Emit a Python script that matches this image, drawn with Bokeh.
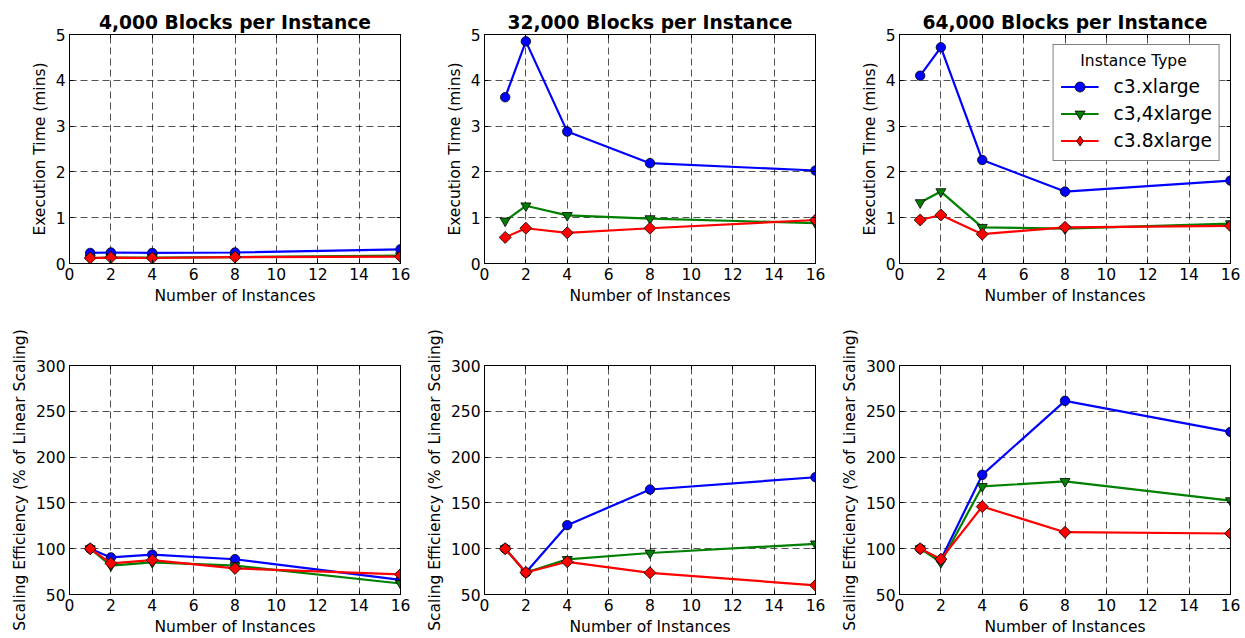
from bokeh.plotting import figure
from bokeh.layouts import gridplot
from bokeh.models import Legend, LegendItem, LinearAxis, FixedTicker, Range1d
from bokeh.embed import file_html
from bokeh.resources import INLINE
import numpy as np

# ---- data -------------------------------------------------------------
instances = [1, 2, 4, 8, 16]
instance_types = ["c3.xlarge", "c3,4xlarge", "c3.8xlarge"]
block_titles = ["4,000 Blocks per Instance", "32,000 Blocks per Instance",
                "64,000 Blocks per Instance"]

# execution time (minutes)
time_4k_c3x = [0.23, 0.24, 0.23, 0.24, 0.31]
time_4k_c34x = [0.12, 0.13, 0.13, 0.14, 0.17]
time_4k_c38x = [0.12, 0.13, 0.12, 0.14, 0.15]

time_32k_c3x = [3.63, 4.85, 2.88, 2.19, 2.03]
time_32k_c34x = [0.93, 1.26, 1.05, 0.98, 0.88]
time_32k_c38x = [0.57, 0.77, 0.67, 0.77, 0.95]

time_64k_c3x = [4.10, 4.72, 2.26, 1.57, 1.81]
time_64k_c34x = [1.33, 1.57, 0.79, 0.76, 0.87]
time_64k_c38x = [0.95, 1.06, 0.64, 0.79, 0.82]

# scaling efficiency (% of linear scaling)
eff_4k_c3x = [100, 90.5, 93.5, 88.5, 66]
eff_4k_c34x = [100, 81.5, 85, 81.5, 62]
eff_4k_c38x = [100, 84, 87.5, 78.5, 72]

eff_32k_c3x = [100, 74, 125.7, 164.6, 178]
eff_32k_c34x = [100, 74, 88.3, 95.3, 105.3]
eff_32k_c38x = [100, 74, 85.7, 73.7, 60]

eff_64k_c3x = [100, 88, 180.6, 261.4, 227.5]
eff_64k_c34x = [100, 85, 168, 173.5, 152.5]
eff_64k_c38x = [100, 88.6, 146, 118, 116.6]

x_ticks = [0, 2, 4, 6, 8, 10, 12, 14, 16]
time_ticks = [0, 1, 2, 3, 4, 5]
eff_ticks = [50, 100, 150, 200, 250, 300]

# ---- style ------------------------------------------------------------
FONT = "DejaVu Sans"
COLORS = ["#0000ff", "#008000", "#ff0000"]
# (plot marker, size, angle, legend marker)
MARKERS = [("circle", 9.5, 0.0, "circle"),
           ("inverted_triangle", 10, 0.0, "inverted_triangle"),
           ("square", 8.5, np.pi / 4, "diamond")]


def style_axis(ax, labels=True):
    ax.axis_line_color = "black"
    ax.major_tick_line_color = "black"
    ax.major_tick_in = 4
    ax.major_tick_out = 0
    ax.minor_tick_line_color = None
    ax.major_label_text_font = FONT
    ax.axis_label_text_font = FONT
    ax.axis_label_text_font_style = "normal"
    ax.axis_label_text_font_size = "15.5px"
    ax.axis_label_text_color = "black"
    if labels:
        ax.major_label_text_color = "black"
        ax.major_label_text_font_size = "15.5px"
        ax.major_label_standoff = 4
        ax.axis_label_standoff = 4
    else:
        # tick marks only, no labels
        ax.major_label_text_color = None
        ax.major_label_text_font_size = "1px"
        ax.major_label_standoff = 0


def panel(title, ylabel, y_rng, y_ticks, series, top_row, with_legend=False):
    p = figure(width=415, height=319, output_backend="svg", toolbar_location=None,
               x_range=Range1d(0, 16), y_range=Range1d(*y_rng),
               min_border_left=69, min_border_right=15,
               min_border_top=34 if top_row else 46,
               min_border_bottom=56 if top_row else 44,
               background_fill_color="white", border_fill_color="white")
    p.outline_line_color = "black"
    p.outline_line_width = 1

    if title:
        p.title.text = title
        p.title.text_font = FONT
        p.title.text_font_size = "18.7px"
        p.title.text_font_style = "bold"
        p.title.text_color = "black"
        p.title.align = "center"
        p.title.standoff = 4

    p.xaxis.ticker = FixedTicker(ticks=x_ticks)
    p.yaxis.ticker = FixedTicker(ticks=y_ticks)
    p.xaxis.axis_label = "Number of Instances"
    p.yaxis.axis_label = ylabel
    style_axis(p.xaxis[0])
    style_axis(p.yaxis[0])

    # inward ticks on the top and right edges too
    top_ax = LinearAxis(ticker=FixedTicker(ticks=x_ticks))
    right_ax = LinearAxis(ticker=FixedTicker(ticks=y_ticks))
    style_axis(top_ax, labels=False)
    style_axis(right_ax, labels=False)
    p.add_layout(top_ax, "above")
    p.add_layout(right_ax, "right")

    for g in (p.xgrid[0], p.ygrid[0]):
        g.grid_line_color = "black"
        g.grid_line_alpha = 0.85
        g.grid_line_width = 0.8
        g.grid_line_dash = "7 4"

    items = []
    for name, ys, color, (marker, size, ang, lg_marker) in zip(
            instance_types, series, COLORS, MARKERS):
        ln = p.line(instances, ys, line_color=color, line_width=2.2)
        p.scatter(instances, ys, marker=marker, size=size, angle=ang,
                  fill_color=color, line_color="black", line_width=0.8)
        if with_legend:
            # key glyph for the legend only; its single point is NaN so
            # nothing shows inside the frame
            key = p.scatter([np.nan], [np.nan], marker=lg_marker, size=size,
                            fill_color=color, line_color="black",
                            line_width=0.8)
            items.append(LegendItem(label=name, renderers=[ln, key]))

    if with_legend:
        lg = Legend(items=items, location="top_right",
                    title="\u00a0\u00a0\u00a0\u00a0Instance Type")
        lg.title_text_font = FONT
        lg.title_text_font_size = "15.5px"
        lg.title_text_font_style = "normal"
        lg.title_text_color = "black"
        lg.title_standoff = 4
        lg.label_text_font = FONT
        lg.label_text_font_size = "18.7px"
        lg.label_text_color = "black"
        lg.label_height = 25
        lg.glyph_height = 25
        lg.glyph_width = 38
        lg.label_standoff = 15
        lg.spacing = 2
        lg.padding = 7
        lg.margin = 10
        lg.border_line_color = "black"
        lg.border_line_width = 1
        lg.background_fill_color = "white"
        lg.background_fill_alpha = 1.0
        p.add_layout(lg)
    return p


time_series = [
    [time_4k_c3x, time_4k_c34x, time_4k_c38x],
    [time_32k_c3x, time_32k_c34x, time_32k_c38x],
    [time_64k_c3x, time_64k_c34x, time_64k_c38x],
]
eff_series = [
    [eff_4k_c3x, eff_4k_c34x, eff_4k_c38x],
    [eff_32k_c3x, eff_32k_c34x, eff_32k_c38x],
    [eff_64k_c3x, eff_64k_c34x, eff_64k_c38x],
]

top = [panel(t, "Execution Time (mins)", (0, 5), time_ticks, s, True,
             with_legend=(i == 2))
       for i, (t, s) in enumerate(zip(block_titles, time_series))]
bottom = [panel(None, "Scaling Efficiency (% of Linear Scaling)", (50, 300),
                eff_ticks, s, False)
          for s in eff_series]

grid = gridplot([top, bottom], toolbar_location=None)

open("out.html", "w").write(file_html(grid, INLINE))
